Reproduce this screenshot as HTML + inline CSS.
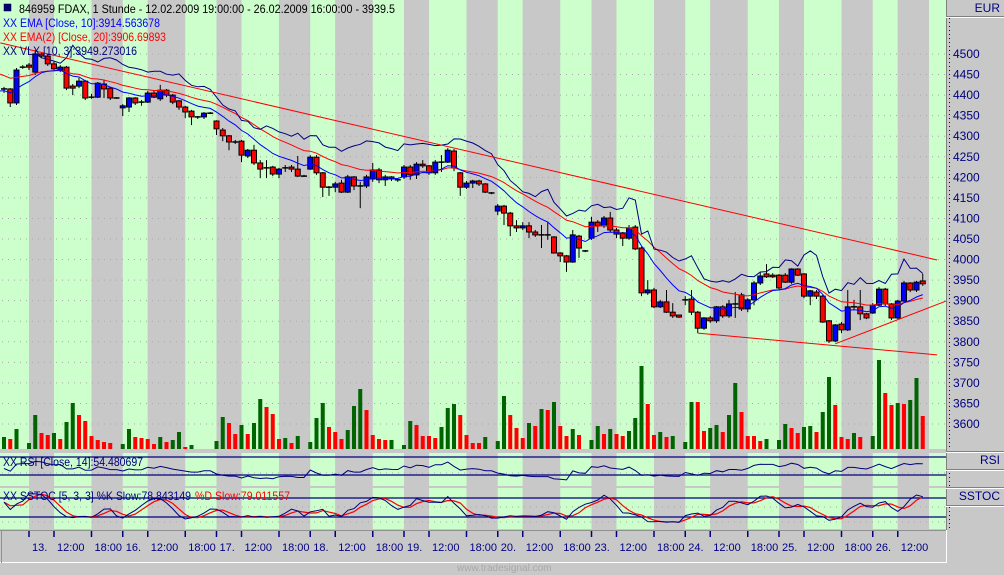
<!DOCTYPE html>
<html><head><meta charset="utf-8">
<style>
html,body{margin:0;padding:0;background:#c8c8c8;}
svg{display:block;font-family:"Liberation Sans",Arial,sans-serif;}
</style></head>
<body>
<svg id="chart" width="1004" height="575" viewBox="0 0 1004 575" xmlns="http://www.w3.org/2000/svg">
<rect x="0" y="0" width="1004" height="575" fill="#c8c8c8"/>
<g id="stripes"></g>
<g id="grid"></g>
<g id="volume"></g>
<g id="candles"></g>
<g id="lines"></g>
<g id="trend"></g>
<g id="rsi"></g>
<g id="stoch"></g>
<g id="axis"></g>
<g id="time"></g>
<rect x="4" y="4" width="7" height="7" fill="#000080" stroke="#000" stroke-width="0.5"/>
<text x="19" y="13" font-size="12" fill="#000" textLength="376" lengthAdjust="spacingAndGlyphs">846959  FDAX, 1 Stunde - 12.02.2009 19:00:00 - 26.02.2009 16:00:00 - 3939.5</text>
<text x="3" y="27" font-size="12" fill="#0000ff" textLength="157" lengthAdjust="spacingAndGlyphs">XX EMA [Close, 10]:3914.563678</text>
<text x="3" y="41" font-size="12" fill="#ff0000" textLength="163" lengthAdjust="spacingAndGlyphs">XX EMA(2) [Close, 20]:3906.69893</text>
<text x="3" y="55" font-size="12" fill="#000080" textLength="134" lengthAdjust="spacingAndGlyphs">XX VLX [10, 3]:3949.273016</text>
<text x="3" y="466" font-size="12" fill="#000080" textLength="140" lengthAdjust="spacingAndGlyphs">XX RSI [Close, 14]:54.480697</text>
<text x="3" y="500" font-size="12" fill="#000080" textLength="188" lengthAdjust="spacingAndGlyphs">XX SSTOC [5, 3, 3] %K Slow:78.843149</text>
<text x="195" y="500" font-size="12" fill="#ff0000" textLength="95" lengthAdjust="spacingAndGlyphs">%D Slow:79.011557</text>
<text x="457" y="571" font-size="10" fill="#a8a8a8">www.tradesignal.com</text>
</svg>
<script>
const opens=[4415,4415,4381,4468,4473,4456,4500,4495,4476,4461,4468,4422,4422,4434,4395,4395,4427,4417,4395,4369,4371,4393,4383,4383,4405,4391,4412,4400,4386,4371,4361,4347,4347,4356,4337,4315,4301,4286,4288,4252,4266,4235,4223,4225,4208,4223,4225,4220,4203,4220,4249,4211,4176,4176,4186,4164,4201,4179,4179,4196,4218,4194,4201,4194,4201,4225,4206,4232,4228,4211,4237,4237,4264,4211,4176,4186,4191,4184,4162,4118,4130,4113,4082,4077,4082,4067,4060,4060,4055,4016,4009,3994,4057,4021,4052,4091,4082,4101,4072,4065,4052,4079,4028,3919,3926,3885,3897,3872,3865,3902,3904,3872,3833,3858,3851,3885,3863,3892,3914,3880,3902,3943,3965,3962,3962,3962,3945,3977,3965,3911,3921,3911,3851,3802,3843,3829,3885,3885,3868,3870,3889,3928,3892,3858,3899,3943,3926,3948];
const highs=[4420,4417,4466,4473,4478,4510,4505,4498,4481,4473,4471,4427,4442,4437,4403,4432,4437,4420,4395,4378,4395,4395,4388,4410,4412,4425,4415,4403,4388,4374,4364,4349,4359,4359,4339,4320,4303,4291,4291,4269,4279,4242,4242,4228,4223,4230,4230,4252,4206,4254,4254,4213,4179,4189,4194,4206,4203,4189,4206,4235,4223,4206,4203,4198,4230,4230,4237,4242,4230,4242,4254,4271,4269,4213,4191,4194,4194,4186,4164,4135,4133,4116,4096,4091,4091,4072,4084,4091,4057,4018,4011,4072,4060,4023,4104,4096,4106,4116,4077,4067,4084,4084,4031,3950,3931,3902,3926,3894,3865,3911,3926,3875,3860,3863,3887,3889,3902,3921,3919,3906,3948,3970,3989,3967,3965,3967,3979,3979,3967,3926,3926,3914,3853,3843,3848,3926,3902,3926,3870,3894,3933,3931,3894,3902,3948,3945,3948,3965];
const lows=[4405,4371,4376,4464,4461,4449,4490,4471,4459,4456,4412,4400,4417,4388,4391,4393,4393,4388,4391,4349,4359,4376,4374,4381,4393,4386,4395,4378,4364,4344,4327,4342,4342,4354,4303,4288,4266,4281,4237,4247,4230,4198,4198,4203,4198,4213,4213,4201,4201,4218,4206,4152,4155,4164,4162,4162,4169,4125,4174,4189,4186,4179,4191,4189,4196,4194,4196,4223,4206,4206,4213,4235,4215,4155,4172,4174,4179,4162,4159,4108,4084,4057,4067,4072,4052,4055,4028,4048,4014,3994,3970,3992,4004,4018,4048,4067,4077,4067,4052,4033,4048,4023,3911,3914,3882,3882,3870,3858,3858,3889,3865,3821,3829,3846,3846,3858,3858,3858,3875,3872,3889,3938,3955,3955,3926,3943,3941,3960,3906,3889,3904,3846,3797,3799,3821,3826,3877,3853,3855,3868,3887,3887,3853,3855,3897,3921,3921,3936];
const closes=[4415,4381,4461,4468,4468,4500,4495,4476,4464,4468,4417,4417,4434,4393,4395,4429,4415,4393,4393,4374,4393,4381,4383,4405,4395,4412,4400,4383,4371,4359,4347,4347,4356,4356,4318,4301,4286,4286,4254,4266,4235,4220,4223,4208,4220,4223,4220,4203,4203,4249,4211,4176,4176,4184,4164,4201,4179,4179,4201,4218,4194,4201,4196,4194,4225,4206,4232,4228,4211,4237,4237,4266,4223,4176,4186,4191,4184,4164,4162,4130,4113,4082,4077,4082,4067,4060,4060,4060,4016,4009,3994,4060,4028,4021,4091,4082,4101,4072,4062,4052,4077,4026,3919,3926,3885,3897,3872,3863,3860,3902,3872,3833,3858,3851,3885,3863,3892,3892,3880,3902,3943,3960,3958,3958,3931,3945,3977,3962,3911,3924,3911,3848,3802,3841,3829,3885,3885,3868,3858,3889,3928,3892,3858,3899,3943,3926,3945,3941];
const volumes=[12,10,20,0,6,34,16,14,16,10,27,46,34,28,13,9,7,6,0,5,20,12,11,10,5,12,7,9,17,2,4,0,0,0,8,32,26,15,24,15,26,50,42,35,10,11,6,13,0,7,31,46,22,17,10,19,43,60,39,14,10,9,9,0,4,28,24,13,13,11,22,41,45,34,14,6,6,12,0,8,53,34,21,11,26,23,40,39,47,23,13,20,14,0,9,23,15,20,15,13,18,31,83,45,14,17,12,13,0,7,47,47,18,21,24,17,34,66,37,13,13,8,10,0,9,25,21,16,22,23,17,37,72,44,12,10,16,12,0,13,89,56,44,46,45,49,71,33];
const volUp=[1,0,1,0,1,1,0,0,1,0,1,1,0,0,0,0,0,0,0,1,1,0,0,0,0,1,0,1,1,0,1,0,0,0,1,1,0,0,1,0,1,1,0,0,0,1,0,1,0,1,1,1,0,0,0,1,1,1,0,0,0,0,1,0,1,1,0,0,0,0,1,1,1,0,0,0,0,1,0,1,1,0,0,0,1,0,1,0,1,0,0,1,0,0,1,1,0,1,0,0,1,1,1,0,0,1,0,1,0,1,1,0,0,1,1,0,1,1,0,0,0,0,1,0,1,1,0,0,1,1,0,1,1,0,0,0,1,0,0,1,1,0,0,1,0,1,1,0];
const stripeBars=[4,8,14,19,23,29,34,38,44,49,53,59,64,68,74,79,83,89,94,98,104,109,113,119,124,128,134,139,143,148];
const timeLabels=["13.","12:00","18:00","16.","12:00","18:00","17.","12:00","18:00","18.","12:00","18:00","19.","12:00","18:00","20.","12:00","18:00","23.","12:00","18:00","24.","12:00","18:00","25.","12:00","18:00","26.","12:00"];
const priceTicks=[3600,3650,3700,3750,3800,3850,3900,3950,4000,4050,4100,4150,4200,4250,4300,4350,4400,4450,4500];
const trendStartBar=[-0.6,111,133];
const trendStartPrice=[4527,3821,3795];
const trendEndBar=[149.3,149.3,151];
const trendEndPrice=[3999,3768,3899];
const emaSeed10=4410, emaSeed20=4451, vlxPeriod=10, vlxFactor=3;

const NS="http://www.w3.org/2000/svg";
const PW=946;
function xb(i){return 4+6.25*i;}
function yp(p){return 54+(4500-p)*0.41111;}
function yv(v){return 449-v;}
function yr(v){return 457+(70-v)*0.45;}
function ys(v){return 523.3-v*0.3167;}
function mk(tag,attrs,parent){const e=document.createElementNS(NS,tag);for(const k in attrs)e.setAttribute(k,attrs[k]);parent.appendChild(e);return e;}
const G=id=>document.getElementById(id);

const panes=[[0,449],[453,486],[488,529]];
{
  const g=G('stripes');
  const bnds=[0].concat(stripeBars.map(xb)).concat([PW]);
  for(let k=0;k<bnds.length-1;k++){
    const x0=Math.max(0,bnds[k]),x1=Math.min(PW,bnds[k+1]);
    const col=(k%2===0)?"#ccffcc":"#c8c8c8";
    panes.forEach(pn=>{
      const r=mk('rect',{x:x0,y:pn[0],width:x1-x0,height:pn[1]-pn[0],fill:col},g);
      
      
    });
  }
}
{
  const g=G('grid');
  priceTicks.forEach(p=>{
    const l=mk('line',{x1:2,x2:PW,y1:yp(p),y2:yp(p),stroke:"#a8a8a8","stroke-dasharray":"1 5"},g);
    
    
  });
  [473,507,522].forEach(y=>{
    const l=mk('line',{x1:2,x2:PW,y1:y,y2:y,stroke:"#a8a8a8","stroke-dasharray":"1 5"},g);
    
    
  });
}
{
  const g=G('volume');
  volumes.forEach((v,i)=>{
    if(v<=0)return;
    const r=mk('rect',{x:xb(i)-2,y:yv(v),width:4,height:v,fill:volUp[i]?"#006400":"#ff0000"},g);
    
    
  });
}
{
  const g=G('candles');
  closes.forEach((c,i)=>{
    const x=xb(i),o=opens[i];
    const w=mk('line',{x1:x,x2:x,y1:yp(highs[i]),y2:yp(lows[i]),stroke:"#000","stroke-width":1},g);
    
    
    const top=yp(Math.max(o,c)),bot=yp(Math.min(o,c));
    if(bot-top<1.5){
      const d=mk('line',{x1:x-3,x2:x+3,y1:yp(c),y2:yp(c),stroke:"#000","stroke-width":1.5},g);
      
      
    }else{
      const b=mk('rect',{x:x-2.5,y:top,width:5,height:bot-top,fill:c>o?"#0000ff":"#ff0000",stroke:"#000","stroke-width":1},g);
      
      
    }
  });
}
function ema(arr,n,seed){const a=2/(n+1);let e=seed;return arr.map(v=>(e=e+a*(v-e)));}
const ema10=ema(closes,10,emaSeed10), ema20=ema(closes,20,emaSeed20);
// volatility stop: lowest/highest close over period +/- factor*ATR
const vlx=[];
{
  let trendDown=true;const tr=[];
  closes.forEach((c,i)=>{
    const pc=i>0?closes[i-1]:opens[0];
    tr.push(Math.max(highs[i]-lows[i],Math.abs(highs[i]-pc),Math.abs(lows[i]-pc)));
    const s=tr.slice(Math.max(0,i-vlxPeriod+1));const atr=s.reduce((a,b)=>a+b,0)/s.length;
    const w=closes.slice(Math.max(0,i-vlxPeriod+1),i+1);
    const lo=Math.min(...w),hi=Math.max(...w);
    let line=trendDown?lo+vlxFactor*atr:hi-vlxFactor*atr;
    if(i>=10){
      if(trendDown&&c>line){trendDown=false;line=hi-vlxFactor*atr;}
      else if(!trendDown&&c<line){trendDown=true;line=lo+vlxFactor*atr;}
    }
    vlx.push(line);
  });
}
function path(vals,yf,start){let d="";vals.forEach((v,i)=>{if(i<start)return;d+=(d?"L":"M")+xb(i).toFixed(1)+","+yf(v).toFixed(1);});return d;}
{
  const g=G('lines');
  const l1=mk('path',{d:"M0,"+yp(emaSeed20).toFixed(1)+path(ema20,yp,0).replace(/^M/,"L"),fill:"none",stroke:"#ff0000","stroke-width":1},g);
  
  
  const l2=mk('path',{d:"M0,"+yp(emaSeed10).toFixed(1)+path(ema10,yp,0).replace(/^M/,"L"),fill:"none",stroke:"#0000ff","stroke-width":1},g);
  
  
  const l3=mk('path',{d:path(vlx,yp,5),fill:"none",stroke:"#000080","stroke-width":1},g);
  
  
}
{
  const g=G('trend');
  trendStartBar.forEach((b,k)=>{
    const l=mk('line',{x1:xb(b),y1:yp(trendStartPrice[k]),x2:Math.min(PW,xb(trendEndBar[k])),y2:yp(trendEndPrice[k]),stroke:"#ff0000","stroke-width":1},g);
    
    
  });
}
const rsi=[];
{
  let ag=0,al=0;
  closes.forEach((c,i)=>{
    const ch=i>0?c-closes[i-1]:0;
    const gn=Math.max(ch,0),ls=Math.max(-ch,0);
    if(i===0){ag=8;al=10;}
    ag=(ag*13+gn)/14;al=(al*13+ls)/14;
    rsi.push(100-100/(1+ag/(al||1e-9)));
  });
  const g=G('rsi');
  [70,30].forEach(v=>{
    const l=mk('line',{x1:0,x2:PW,y1:yr(v),y2:yr(v),stroke:"#000080","stroke-width":1.2},g);
    
    
  });
  const p=mk('path',{d:path(rsi,v=>Math.max(454,Math.min(485,yr(v))),0),fill:"none",stroke:"#000080","stroke-width":1},g);
  
  
}
{
  const raw=closes.map((c,i)=>{const s=Math.max(0,i-4);const hh=Math.max(...highs.slice(s,i+1)),ll=Math.min(...lows.slice(s,i+1));return hh>ll?(c-ll)/(hh-ll)*100:50;});
  const sma=(a,n)=>a.map((v,i)=>{const s=a.slice(Math.max(0,i-n+1),i+1);return s.reduce((x,y)=>x+y,0)/s.length;});
  const k=sma(raw,3),d=sma(k,3);
  const g=G('stoch');
  [80,20].forEach(v=>{
    const l=mk('line',{x1:0,x2:PW,y1:ys(v),y2:ys(v),stroke:"#000080","stroke-width":1.2},g);
    
    
  });
  const pd=mk('path',{d:path(d,ys,0),fill:"none",stroke:"#ff0000","stroke-width":1.2},g);
  
  
  const pk=mk('path',{d:path(k,ys,0),fill:"none",stroke:"#000080","stroke-width":1},g);
  
  
}
{
  const g=G('axis');
  const bg=mk('rect',{x:PW,y:0,width:58,height:530,fill:"#c8c8c8"},g);
  
  
  const bl=mk('line',{x1:PW+0.5,x2:PW+0.5,y1:0,y2:530,stroke:"#808080"},g);
  
  
  [[16,'EUR',8],[469,'RSI',460],[505,'SSTOC',496]].forEach((b,k)=>{
    const top=[0,451,487][k];
    if(k>0){const t=mk('line',{x1:PW,x2:1004,y1:top+0.5,y2:top+0.5,stroke:"#808080"},g);
      const t2=mk('line',{x1:PW,x2:1004,y1:top+1.5,y2:top+1.5,stroke:"#ffffff"},g);}
    const l=mk('line',{x1:PW,x2:1004,y1:b[0]+0.5,y2:b[0]+0.5,stroke:"#808080"},g);
    
    
    const l2=mk('line',{x1:PW,x2:1004,y1:b[0]+1.5,y2:b[0]+1.5,stroke:"#ffffff"},g);
    
    
    const t=mk('text',{x:1000,y:b[2]+4,"font-size":12,fill:"#000080","text-anchor":"end"},g);
    t.textContent=b[1];
    
    
  });
  [[18,447],[473,486],[507,529]].forEach(r=>{
    const l=mk('line',{x1:949.5,x2:949.5,y1:r[0],y2:r[1],stroke:"#000080","stroke-dasharray":"1 3"},g);
    
    
  });
  priceTicks.forEach(p=>{
    const t=mk('text',{x:953,y:yp(p)+4,"font-size":12,fill:"#000080"},g);
    t.textContent=String(p);
    
    
  });
  [[449,453],[486,488]].forEach(r=>{
    const s=mk('rect',{x:0,y:r[0],width:PW,height:r[1]-r[0],fill:"#c8c8c8"},g);
    
    
  });
}
{
  const g=G('time');
  const bl=mk('line',{x1:0,x2:PW,y1:530.5,y2:530.5,stroke:"#909090"},g);
  
  
  const wb=mk('line',{x1:0,x2:PW+1,y1:562.5,y2:562.5,stroke:"#ffffff"},g);
  
  
  const wr=mk('line',{x1:PW+0.5,x2:PW+0.5,y1:530,y2:563,stroke:"#ffffff"},g);
  
  
  const wl=mk('line',{x1:1.5,x2:1.5,y1:530,y2:563,stroke:"#909090"},g);
  
  
  timeLabels.forEach((lab,k)=>{
    const x=xb(stripeBars[k]);
    const tk=mk('line',{x1:x,x2:x,y1:531,y2:537,stroke:"#000080","stroke-width":1.5},g);
    
    
    const t=mk('text',{x:x+3,y:551,"font-size":11,fill:"#000080"},g);
    t.textContent=lab;
    
    
  });
}
</script>
</body></html>
